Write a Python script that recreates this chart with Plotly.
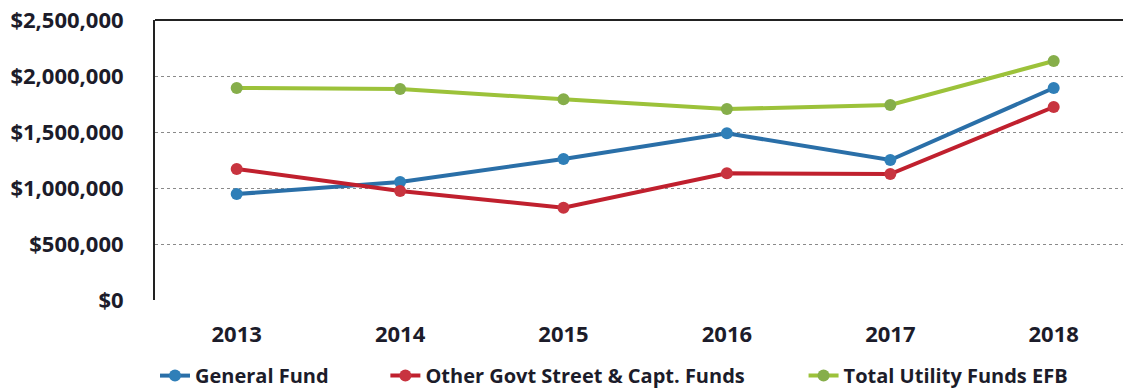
import plotly.graph_objects as go

years = ["2013", "2014", "2015", "2016", "2017", "2018"]
general_fund = [946000, 1054000, 1259000, 1488000, 1250000, 1893000]
other_govt = [1170000, 973000, 824000, 1131000, 1125000, 1723000]
total_utility = [1893000, 1884000, 1792000, 1705000, 1741000, 2134000]
y_ticks = [0, 500000, 1000000, 1500000, 2000000, 2500000]
y_tick_text = ["$0", "$500,000", "$1,000,000", "$1,500,000", "$2,000,000", "$2,500,000"]

FONT = "Open Sans"
TXT = "#1c1c2a"
xs = list(range(len(years)))

series = [
    ("General Fund", general_fund, "#2a6fa8", "#2f7fb8", "legend"),
    ("Other Govt Street & Capt. Funds", other_govt, "#c0202e", "#c8343f", "legend2"),
    ("Total Utility Funds EFB", total_utility, "#9cc23a", "#86ae4a", "legend3"),
]

fig = go.Figure()
for name, vals, lc, mc, lg in series:
    fig.add_trace(go.Scatter(
        x=xs, y=vals, name=name, mode="lines+markers",
        line=dict(color=lc, width=4),
        marker=dict(color=mc, size=12),
        legend=lg, showlegend=True,
    ))

legend_common = dict(
    orientation="h", yanchor="middle", y=-0.27, xanchor="left",
    font=dict(family=FONT, size=20, color=TXT, weight="bold"),
    bgcolor="rgba(0,0,0,0)", itemwidth=30, visible=True,
)
fig.update_layout(
    width=1123, height=388,
    showlegend=True,
    margin=dict(l=155, r=0, t=20, b=88, autoexpand=False),
    paper_bgcolor="white", plot_bgcolor="white",
    legend=dict(x=0.0, **legend_common),
    legend2=dict(x=0.238, **legend_common),
    legend3=dict(x=0.670, **legend_common),
    xaxis=dict(
        range=[-0.5, -0.5 + 968 / 163.4],
        tickvals=xs, ticktext=years,
        showgrid=False, zeroline=False, showline=False,
        ticks="", ticklabelstandoff=19,
        tickfont=dict(family=FONT, size=22, color=TXT, weight="bold"),
    ),
    yaxis=dict(
        range=[0, 2500000],
        tickvals=y_ticks, ticktext=y_tick_text,
        showgrid=True, gridcolor="#8a8a8a", griddash="dot", gridwidth=1,
        zeroline=False, showline=True, linecolor="#222", linewidth=2,
        ticks="", ticklabelstandoff=25,
        tickfont=dict(family=FONT, size=22, color=TXT, weight="bold"),
    ),
    shapes=[dict(type="line", xref="paper", yref="paper", x0=0, x1=1, y0=1, y1=1,
                 line=dict(color="#222", width=2))],
)

fig.write_html("out.html")
